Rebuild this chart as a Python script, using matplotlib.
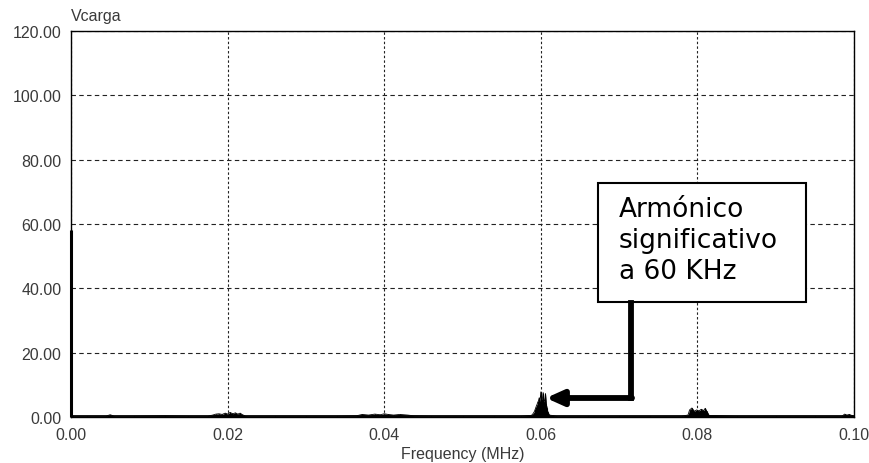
import matplotlib
matplotlib.use("Agg")
import matplotlib.pyplot as plt
from matplotlib.patches import Rectangle

# --- data ---
freq_mhz = [0.0000, 0.0001, 0.0003, 0.0020, 0.0045, 0.0050, 0.0055, 0.0080, 0.0120, 0.0150,
            0.0175, 0.0181, 0.0185, 0.0189, 0.0193, 0.0197, 0.0200, 0.0203, 0.0207, 0.0210,
            0.0213, 0.0216, 0.0219, 0.0223, 0.0260, 0.0300, 0.0340, 0.0365, 0.0372, 0.0380,
            0.0388, 0.0395, 0.0400, 0.0405, 0.0412, 0.0420, 0.0430, 0.0437, 0.0460, 0.0500,
            0.0540, 0.0575, 0.0588, 0.0590, 0.0592, 0.0593, 0.0594, 0.0595, 0.0596, 0.0597,
            0.0598, 0.0599, 0.0600, 0.0601, 0.0602, 0.0603, 0.0604, 0.0605, 0.0606, 0.0607,
            0.0608, 0.0609, 0.0611, 0.0620, 0.0660, 0.0700, 0.0740, 0.0780, 0.0788, 0.0790,
            0.0793, 0.0796, 0.0799, 0.0802, 0.0805, 0.0808, 0.0810, 0.0812, 0.0815, 0.0850,
            0.0900, 0.0950, 0.0985, 0.0988, 0.0991, 0.0994, 0.0997, 0.1000]
amplitude = [58.0, 0.5, 0.3, 0.3, 0.3, 0.7, 0.3, 0.3, 0.4, 0.3,
             0.3, 0.6, 0.9, 1.0, 0.8, 1.2, 0.9, 1.4, 1.0, 1.3,
             0.9, 1.2, 0.7, 0.3, 0.3, 0.3, 0.3, 0.4, 0.8, 0.6,
             0.9, 0.7, 1.0, 0.8, 0.6, 0.8, 0.6, 0.4, 0.3, 0.3,
             0.3, 0.3, 0.5, 1.0, 1.8, 2.5, 3.2, 3.8, 4.5, 5.0,
             6.0, 4.8, 7.8, 5.0, 5.5, 7.6, 4.6, 5.2, 7.3, 4.0,
             2.8, 1.6, 0.6, 0.3, 0.3, 0.3, 0.3, 0.3, 0.6, 2.2,
             2.8, 1.8, 2.2, 1.9, 2.4, 2.0, 2.7, 1.8, 0.5, 0.3,
             0.3, 0.3, 0.3, 0.9, 0.6, 0.8, 0.5, 0.3]
x_ticks = [0.00, 0.02, 0.04, 0.06, 0.08, 0.10]
y_ticks = [0, 20, 40, 60, 80, 100, 120]
series_name = "Vcarga"
x_label = "Frequency (MHz)"
note_text = "Armónico\nsignificativo\na 60 KHz"

W, H = 870, 464
L, R, T, B = 71, 854, 32, 418
fig = plt.figure(figsize=(W/100, H/100), dpi=100)
ax = fig.add_axes([L/W, (H-B)/H, (R-L)/W, (B-T)/H])

ax.fill_between(freq_mhz, 0, amplitude, color="black", lw=0, zorder=3)
ax.plot(freq_mhz, amplitude, color="black", lw=0.6, zorder=3)
ax.vlines(freq_mhz, 0, amplitude, color="black", lw=0.8, zorder=3)
ax.vlines(freq_mhz[:1], 0, amplitude[:1], color="black", lw=2.2, zorder=5, clip_on=False)
ax.plot([0.0, 0.1], [0.3, 0.3], color="black", lw=1.2, zorder=3)

ax.set_xlim(0, 0.1)
ax.set_ylim(0, 120)
ax.set_xticks(x_ticks)
ax.set_yticks(y_ticks)
ax.set_xticklabels([f"{v:.2f}" for v in x_ticks])
ax.set_yticklabels([f"{v:.2f}" for v in y_ticks])
ax.tick_params(length=0, labelsize=11.5, labelcolor="#3a3a3a")
ax.tick_params(axis="x", pad=7)
ax.tick_params(axis="y", pad=7)
for lab in ax.get_xticklabels() + ax.get_yticklabels():
    lab.set_family("Liberation Sans")

ax.grid(True, axis="y", color="#222222", linestyle=(0, (4, 3)), lw=0.8)
ax.grid(True, axis="x", color="#222222", linestyle=(0, (2.2, 2)), lw=0.8)
ax.set_axisbelow(True)

for s in ax.spines.values():
    s.set_linewidth(1.0)
    s.set_zorder(4)

ax.set_xlabel(x_label, fontsize=11.5, family="Liberation Sans", color="#3a3a3a", labelpad=3)
ax.text(0.0, 1.02, series_name, transform=ax.transAxes, fontsize=11.5,
        family="Liberation Sans", color="#3a3a3a", ha="left", va="bottom")

# annotation box (pixel positions converted to data units)
def dx(px):
    return (px - L) / (R - L) * 0.1
def dy(py):
    return (B - py) / (B - T) * 120

ax.add_patch(Rectangle((dx(598), dy(303)), dx(806) - dx(598), dy(184) - dy(303),
                       fc="white", ec="black", lw=1.5, zorder=5))
ax.text(dx(619), dy(197), note_text, fontsize=19, family="DejaVu Sans",
        va="top", ha="left", linespacing=1.24, zorder=6)
# connector + arrow
ax.plot([dx(631), dx(631)], [dy(304), dy(399)], color="black", lw=4.2,
        solid_capstyle="projecting", zorder=5)
ax.annotate("", xy=(dx(546), dy(399)), xytext=(dx(632), dy(399)),
            arrowprops=dict(arrowstyle="-|>,head_length=1.0,head_width=0.45",
                            color="black", lw=4.2, shrinkA=0, shrinkB=0),
            zorder=5)

fig.savefig("out.png", dpi=100)
